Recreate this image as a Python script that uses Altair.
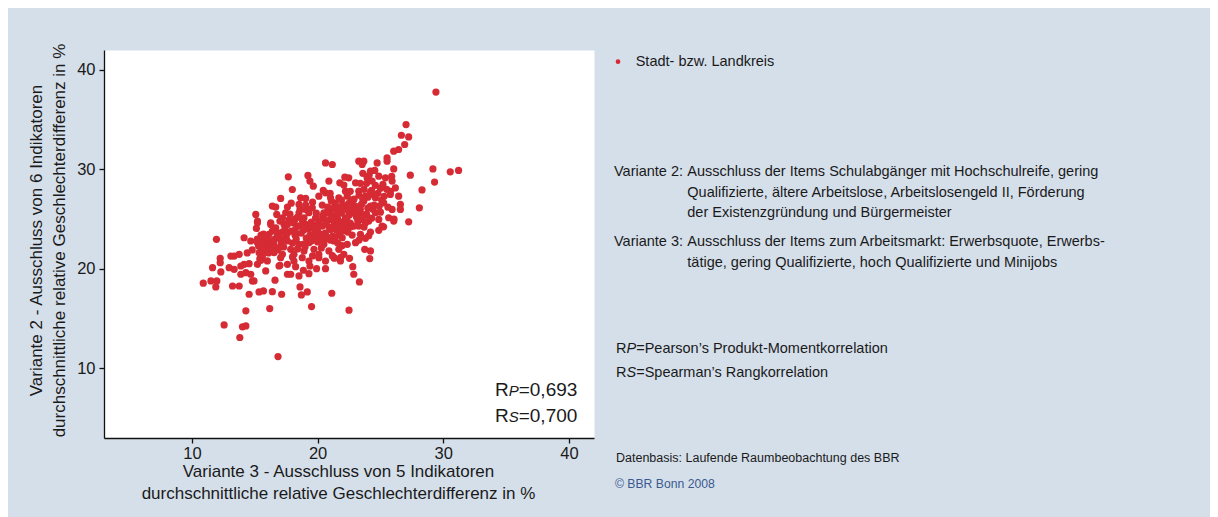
import altair as alt
import pandas as pd

# Variante 3 (x) and Variante 2 (y) values
variante3 = [
    29.42, 27.04, 26.67, 27.25, 26.93, 26.06, 26.45, 25.53, 25.53, 23.28, 23.68, 23.55, 24.74, 29.18, 30.56, 31.22, 29.31, 26.06, 27.38, 28.31, 28.1, 27.25,
    24.21, 24.55, 23.94, 24.34, 24.87, 25.4, 25.93, 26.19, 25.79, 26.45, 26.59, 26.59, 25.93, 25.66, 24.87, 24.6, 25.26, 24.6, 23.81, 23.28, 23.02, 22.48, 22.22, 22.75, 22.62, 23.41, 23.55, 24.07, 24.21, 23.68,
    20.63, 21.17, 17.67, 19.23, 19.39, 19.66, 20.9, 22.17, 21.77, 22.09, 17.99, 20.45, 20.63, 17.06, 18.65, 19.05, 20.1, 21.03, 21.69, 22.36, 16.4, 16.67, 17.6, 18.52, 19.05, 19.58, 20.37, 21.3, 21.96, 15.08, 15.21, 16.75, 17.2, 17.46, 18.52, 18.92, 19.31, 19.84, 20.5, 21.03, 21.56, 22.22, 16.27, 17.33,
    15.21, 16.27, 16.67, 16.13, 17.6, 18.39, 19.05, 19.71, 20.37, 21.03, 21.69, 22.22, 14.15, 14.68, 15.21, 15.48, 15.34, 15.74, 15.87, 15.61,
    16.27, 16.53, 16.93, 17.2, 17.6, 17.86, 18.12, 18.52, 18.92, 19.31, 19.71, 20.1, 20.5, 20.9, 21.3, 21.69, 22.09, 22.36, 21.96,
    13.36, 13.76, 12.96, 13.36, 12.25, 12.25, 11.64, 12.3, 10.9, 11.51, 11.9, 11.98, 13.23, 13.76, 14.15, 14.55, 14.29, 13.89, 14.68, 14.81, 14.55, 15.34, 15.69, 16.4, 17.14, 18.6, 19.18, 18.71, 19.52, 21.13,
    16.61, 17.0, 17.6, 17.86, 18.25, 18.52, 18.87, 19.31, 19.39, 19.92, 20.63, 14.29, 16.19, 12.56, 14.02, 14.29, 13.81, 16.85, 22.5, 14.94, 15.87, 16.93, 15.21, 13.89, 13.1, 15.48,
    18.12, 18.78, 17.6, 17.06, 19.31, 20.1, 20.63, 21.3, 21.82, 11.95, 15.13,
    22.54, 22.8, 22.88, 23.33, 23.75, 24.21, 24.15, 22.75, 23.41, 23.02, 23.81, 24.21, 24.87, 25.13, 26.06, 23.28, 22.75, 23.81,
    21.85, 26.08, 25.25, 24.07, 23.3, 21.94, 21.17, 21.35,
    15.5, 15.8, 16.0, 16.2, 16.4, 15.9, 16.1, 15.6, 16.3, 15.7,
    19.7, 20.0, 20.3, 20.6, 20.9, 21.2, 21.5, 19.9, 20.5, 21.0, 21.4, 20.2,
    21.6, 21.9, 22.2, 22.5, 22.8, 23.1, 22.0, 22.6, 23.2, 21.8, 22.4,
    17.5, 17.9, 18.3, 18.7, 19.1, 18.0, 18.5, 17.2, 19.3, 18.9, 17.7, 18.2,
    23.5, 24.0, 24.4, 23.9, 24.8, 25.1, 23.3, 24.6, 25.5, 23.7, 22.9, 22.6, 21.4, 21.0,
    15.2, 15.5, 16.6, 16.9, 17.1, 16.5, 15.9, 16.8, 15.4, 16.0, 17.3,
    17.4, 17.8, 18.1, 18.4, 18.8, 19.2, 19.5, 19.8, 18.6, 19.6, 17.9, 18.3, 19.0, 19.4,
    20.1, 20.4, 20.8, 21.1, 21.5, 21.9, 22.3, 22.7, 23.0, 22.1, 20.7, 21.3, 22.9, 22.4, 21.7,
    23.4, 23.9, 24.2, 24.5, 25.0, 25.3, 25.6, 25.0, 24.3, 23.7, 24.9, 25.8, 24.1, 23.6,
    18.0, 19.6, 20.3, 21.6, 20.0, 18.4, 17.0, 16.4, 14.8, 14.4,
    16.8, 17.5, 18.2, 18.9, 19.5, 20.1, 20.7, 21.4, 22.0, 22.6, 23.2, 23.8, 24.5, 24.0, 23.4, 22.9, 22.3, 21.7, 21.2, 20.6,
    20.0, 19.4, 18.9, 18.2, 17.6, 17.0, 16.5, 16.0, 15.7, 15.3, 19.9, 20.8, 21.8, 22.5, 23.6, 24.3, 25.2, 25.9, 21.0, 19.0,
]
variante2 = [
    37.77, 34.5, 33.43, 33.26, 32.5, 31.83, 32.0, 31.15, 30.82, 30.82, 30.82, 30.49, 30.65, 30.05, 29.75, 29.89, 28.72, 30.05, 29.42, 27.94, 26.14, 24.73,
    29.82, 29.89, 29.15, 28.82, 29.32, 29.15, 28.82, 28.14, 27.48, 27.31, 26.48, 25.98, 25.98, 25.14, 24.97, 25.64, 26.64, 27.14, 27.31, 27.81, 28.65, 29.15, 27.81, 26.64, 25.81, 25.64, 24.97, 24.8, 26.31, 26.81,
    30.65, 30.49, 29.25, 29.39, 28.82, 28.31, 28.82, 29.22, 28.65, 28.42, 27.98, 27.88, 27.64, 27.08, 27.14, 27.08, 27.31, 27.14, 27.14, 27.31, 26.31, 26.21, 26.21, 26.48, 26.41, 26.14, 26.41, 26.14, 26.31, 25.47, 24.8, 25.47, 25.14, 25.64, 25.64, 25.14, 25.64, 25.14, 25.64, 24.97, 25.47, 25.14, 24.63, 24.47,
    24.63, 24.47, 24.13, 23.47, 24.47, 24.3, 24.47, 24.13, 24.3, 23.97, 24.13, 24.3, 23.13, 22.8, 22.63, 22.13, 21.62, 22.3, 21.8, 21.29,
    22.47, 21.62, 22.13, 21.46, 22.8, 21.97, 21.46, 22.47, 21.8, 22.63, 21.97, 21.46, 22.47, 21.8, 22.8, 21.97, 21.46, 22.47, 23.13,
    21.29, 21.46, 20.12, 19.96, 21.06, 20.62, 20.12, 19.69, 18.56, 18.79, 18.18, 18.79, 18.28, 18.28, 20.46, 20.52, 19.62, 19.46, 19.46, 18.79, 17.45, 17.68, 17.78, 17.71, 17.45, 18.18, 17.68, 17.38, 16.21, 17.55,
    18.86, 20.36, 19.46, 19.46, 20.22, 19.29, 19.86, 19.52, 20.29, 20.02, 20.02, 15.78, 16.01, 14.37, 14.17, 14.27, 13.1, 11.19, 15.85, 18.79, 19.79, 20.29, 20.46, 20.29, 21.29, 20.86,
    20.79, 21.12, 20.46, 21.12, 20.79, 21.12, 20.79, 21.12, 20.79, 22.97, 24.07,
    21.06, 20.22, 19.46, 18.69, 21.97, 21.8, 21.03, 23.4, 23.47, 22.63, 23.07, 23.7, 23.87, 24.3, 24.8, 24.3, 24.3, 24.63,
    21.17, 25.0, 24.23, 23.33, 22.9, 22.33, 21.33, 21.07,
    22.4, 22.6, 22.2, 22.7, 22.0, 21.9, 21.6, 22.0, 22.4, 22.9,
    23.2, 23.8, 23.0, 23.6, 24.2, 23.3, 23.9, 24.4, 22.9, 22.9, 24.4, 23.5,
    25.0, 25.6, 24.8, 25.4, 26.0, 25.2, 26.1, 24.6, 25.8, 24.6, 25.9,
    23.2, 23.8, 23.0, 23.6, 23.1, 22.6, 24.3, 23.7, 24.0, 22.5, 24.9, 25.0,
    26.5, 27.2, 26.0, 25.5, 27.6, 26.9, 27.4, 28.4, 28.0, 28.0, 27.0, 27.8, 26.6, 25.8,
    23.0, 23.4, 23.0, 23.6, 22.6, 22.9, 23.2, 21.9, 21.0, 20.8, 22.2,
    24.0, 25.5, 24.6, 25.2, 24.8, 25.9, 24.7, 23.7, 26.0, 26.7, 26.6, 23.5, 22.2, 23.4,
    24.8, 25.3, 26.2, 26.8, 25.9, 26.9, 26.4, 26.9, 26.3, 24.4, 24.6, 24.7, 24.3, 23.7, 23.4,
    28.6, 28.6, 27.7, 27.4, 28.1, 27.3, 26.2, 25.7, 25.1, 24.2, 26.3, 27.8, 29.4, 29.6,
    21.2, 21.3, 22.1, 22.6, 22.7, 22.0, 24.8, 23.8, 21.9, 21.6,
    23.3, 22.9, 23.4, 23.9, 22.8, 23.1, 23.3, 23.1, 23.8, 24.2, 24.8, 25.4, 26.4, 26.1, 26.0, 25.6, 25.0, 24.8, 25.3, 24.9,
    24.3, 24.3, 24.1, 23.9, 23.6, 23.1, 22.5, 23.0, 23.5, 22.3, 25.6, 25.6, 26.2, 26.6, 27.0, 27.9, 28.5, 29.3, 27.6, 26.0,
]

tick_values = [10, 20, 30, 40]
legend_label = "Stadt- bzw. Landkreis"
x_title = ["Variante 3 - Ausschluss von 5 Indikatoren",
           "durchschnittliche relative Geschlechterdifferenz in %"]
y_title = ["Variante 2 - Ausschluss von 6 Indikatoren",
           "durchschnittliche relative Geschlechterdifferenz in %"]

FONT = "Liberation Sans"
BG = "#d5dfea"
RED = "#d62b34"
INK = "#1a1a1a"

df = pd.DataFrame({"v3": variante3, "v2": variante2})
dummy = pd.DataFrame({"k": [0]})

points = alt.Chart(df).mark_circle(size=52, color=RED, opacity=1).encode(
    x=alt.X("v3:Q",
            scale=alt.Scale(domain=[3, 42], nice=False, zero=False),
            axis=alt.Axis(values=tick_values, title=x_title, titleX=234, titleY=25,
                          titleBaseline="top", titleAlign="center",
                          titleLineHeight=22, labelPadding=2)),
    y=alt.Y("v2:Q",
            scale=alt.Scale(domain=[3, 42], nice=False, zero=False),
            axis=alt.Axis(values=tick_values, title=y_title, titleX=-59, titleY=190,
                          titleAlign="center", titleLineHeight=23, labelPadding=4)),
)


def txt(s, x, y, size=14.5, style="normal", color=INK, align="left", baseline="middle"):
    return alt.Chart(dummy).mark_text(
        text=s, font=FONT, fontSize=size, fontStyle=style, color=color,
        align=align, baseline=baseline
    ).encode(x=alt.value(x), y=alt.value(y))


legend_dot = alt.Chart(dummy).mark_circle(size=22, color=RED, opacity=1).encode(
    x=alt.value(514), y=alt.value(11.7))

layers = [
    points,
    legend_dot,
    txt(legend_label, 531.7, 11.7),
    txt("Variante 2:", 510, 121.7),
    txt("Ausschluss der Items Schulabgänger mit Hochschulreife, gering", 583.3, 121.7),
    txt("Qualifizierte, ältere Arbeitslose, Arbeitslosengeld II, Förderung", 583.3, 142.7),
    txt("der Existenzgründung und Bürgermeister", 583.3, 163),
    txt("Variante 3:", 510, 191.7),
    txt("Ausschluss der Items zum Arbeitsmarkt: Erwerbsquote, Erwerbs-", 583.3, 191.7),
    txt("tätige, gering Qualifizierte, hoch Qualifizierte und Minijobs", 583.3, 212.7),
    txt("R", 512, 299),
    txt("P", 522.5, 299, style="italic"),
    txt("=Pearson’s Produkt-Momentkorrelation", 532.2, 299),
    txt("R", 512, 323.3),
    txt("S", 522.5, 323.3, style="italic"),
    txt("=Spearman’s Rangkorrelation", 532.2, 323.3),
    txt("Datenbasis: Laufende Raumbeobachtung des BBR", 512, 407.7, size=12.5),
    txt("© BBR Bonn 2008", 511, 434.3, size=12.2, color="#3a5a8f"),
    txt("R", 391, 345.5, size=19, baseline="alphabetic"),
    txt("P", 404.7, 345.5, size=15, style="italic", baseline="alphabetic"),
    txt("=0,693", 414.7, 345.5, size=19, baseline="alphabetic"),
    txt("R", 391, 371.5, size=19, baseline="alphabetic"),
    txt("S", 404.7, 371.5, size=15, style="italic", baseline="alphabetic"),
    txt("=0,700", 414.7, 371.5, size=19, baseline="alphabetic"),
]

chart = alt.layer(*layers).properties(
    width=490,
    height=388,
    background=BG,
    padding={"left": 96, "top": 42, "right": 616, "bottom": 79},
    autosize=alt.AutoSizeParams(type="none"),
).configure_view(
    fill="white", stroke="transparent"
).configure_axis(
    domainColor="#111111", domainWidth=1.3, tickColor="#111111", tickWidth=1.3,
    tickSize=5, labelFont=FONT, labelFontSize=16.5, labelColor=INK,
    titleFont=FONT, titleFontSize=17, titleFontWeight="normal", titleColor=INK,
    grid=False,
)

chart.save("out.html", embed_options={"renderer": "svg", "actions": False})
